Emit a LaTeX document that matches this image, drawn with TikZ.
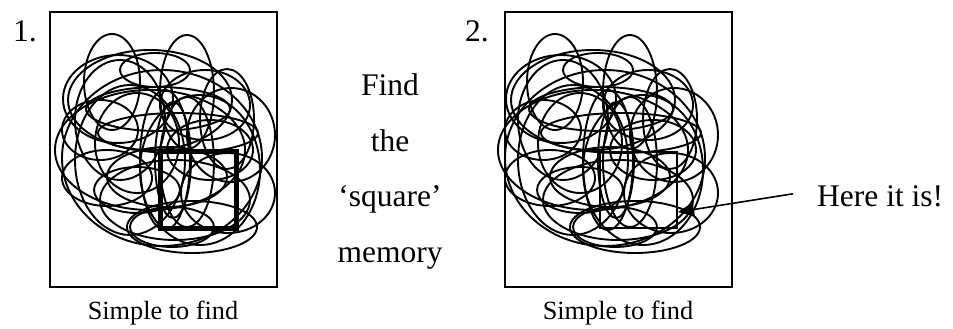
\documentclass[tikz,border=0pt]{standalone}
\usepackage{fontspec}
\setmainfont{Liberation Serif}
\usetikzlibrary{arrows.meta,positioning,calc}

\tikzset{
  frame/.style={line width=2.2pt},
  loop/.style={line width=1.9pt},
  word/.style={anchor=base,inner sep=0pt,font=\fontsize{31.5pt}{36pt}\selectfont},
  caption/.style={anchor=base,inner sep=0pt,font=\fontsize{26.3pt}{30pt}\selectfont},
  pointer/.style={line width=1.6pt,-{Triangle[length=16pt,width=14pt]}},
}

% the tangle of loops, in pixel-like units (y counted from the top)
\newcommand{\tangle}{%
  \foreach \cx/\cy/\rx/\ry in {112/82/28/48, 187/92/27/57, 150/100/82/50,
      227/119/27/50, 231/135/44/47, 228/193/47/40, 192/227/65/26,
      107/178/45/28, 162/158/100/88, 137/143/42/50, 165/160/25/70,
      187/162/27/65, 158/109/72/22, 178/133/80/20, 137/190/43/23,
      155/70/35/17, 100/130/38/30, 172/227/42/20, 118/99/55/44,
      173/160/18/58, 210/150/43/30, 167/177/60/30, 150/150/95/60,
      200/170/60/75, 130/160/55/75, 175/200/75/40, 120/120/45/60,
      205/105/45/35}
    \draw[loop] (\cx,{329-\cy}) ellipse [x radius=\rx, y radius=\ry];
}

\begin{document}
\begin{tikzpicture}[x=1pt,y=1pt]
  \useasboundingbox (0,0) rectangle (953,329);

  % left panel
  \draw[frame] (50,317) rectangle (277,42);
  \tangle
  \draw[line width=5pt] (160,177) rectangle (236,100);
  \node[word,anchor=base west] (one) at (13,287) {1.};
  \node[caption] (capone) at (163,9) {Simple to find};

  % right panel, same tangle, thin square
  \draw[frame] (505,317) rectangle (732,42);
  \begin{scope}[xshift=443pt]
    \tangle
    \draw[loop] (157,177) rectangle (234,101);
  \end{scope}
  \node[word,anchor=base west] (two) at (465,287) {2.};
  \node[caption] (captwo) at (618,9) {Simple to find};

  % middle words
  \node[word] (find) at (390,233) {Find};
  \node[word] (the) at (390,177) {the};
  \node[word] (square) at (390,122) {‘square’};
  \node[word] (memory) at (390,66) {memory};

  \node[word,anchor=base west] (here) at (817,122) {Here it is!};
  \coordinate (tip) at (678,117);
  \draw[pointer] ([xshift=-24pt,yshift=3pt]here.west) -- (tip);
\end{tikzpicture}
\end{document}
